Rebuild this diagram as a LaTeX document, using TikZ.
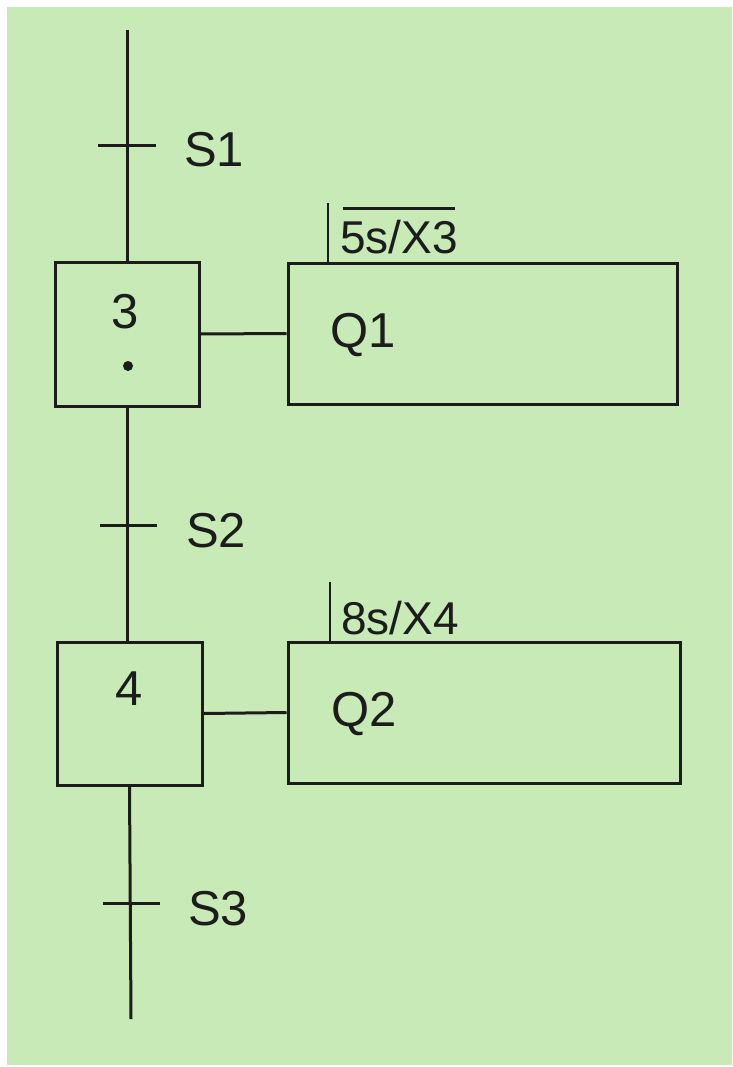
\documentclass[tikz,border=0pt]{standalone}
\usepackage{fontspec}
\setmainfont{Liberation Sans}
\usetikzlibrary{calc}
\definecolor{bggreen}{RGB}{200,234,182}
\definecolor{ink}{RGB}{28,28,28}
\begin{document}
\begin{tikzpicture}[x=1pt,y=-1pt,
  line/.style={draw=ink,line width=3pt},
  thinline/.style={draw=ink,line width=2pt},
  stepbox/.style={draw=ink,line width=3pt,minimum width=144pt,minimum height=144pt,inner sep=0pt},
  actbox/.style={draw=ink,line width=3pt,minimum width=390pt,minimum height=141pt,inner sep=0pt},
  lbl/.style={text=ink,font=\fontsize{49}{49}\selectfont,inner sep=0pt},
  tlbl/.style={text=ink,font=\fontsize{46}{46}\selectfont,inner sep=0pt}]
\useasboundingbox (0,0) rectangle (732,1067);
\fill[white] (0,0) rectangle (732,1067);
\fill[bggreen] (7,7) rectangle (732,1065);

% steps and actions
\node[stepbox] (s3) at (127,334) {};
\node[stepbox,minimum width=145pt,minimum height=143pt] (s4) at (129.5,713.5) {};
\node[actbox,minimum width=389pt] (a3) at (482.5,333.5) {};
\node[actbox,minimum width=392pt] (a4) at (484,712.5) {};

\node[lbl,anchor=base] (n3) at (125.5,328) {3};
\node[lbl,anchor=base] (n4) at (129.5,705) {4};
\fill[ink] (128,366) circle (5pt);
\node[lbl,anchor=base west] (q1) at (330,347) {Q1};
\node[lbl,anchor=base west] (q2) at (331,726) {Q2};

% main line
\coordinate (top) at (127,30);
\coordinate (bot) at (131,1019);
\draw[line] (top) -- (s3.north);
\draw[line] (s3.south) -- (s3.south |- s4.north);
\draw[line] (s4.south) -- (bot);

% transitions
\coordinate (t1) at (127,146);
\coordinate (t2) at (128,525);
\coordinate (t3) at (130.5,903);
\draw[line] ($(t1)+(-29,0)$) -- ($(t1)+(29,0)$);
\draw[line] ($(t2)+(-28,0)$) -- ($(t2)+(29,0)$);
\draw[line] ($(t3)+(-28,0)$) -- ($(t3)+(29,0)$);
\node[lbl,anchor=base west] (c1) at (184,167) {S1};
\node[lbl,anchor=base west] (c2) at (186,547) {S2};
\node[lbl,anchor=base west] (c3) at (188,925) {S3};

% step-to-action links
\draw[line] (s3.east) -- (a3.west);
\draw[line] (s4.east) -- (a4.west);

% timed qualifiers
\draw[thinline] ([xshift=41pt]a3.north west) -- ++(0,-58);
\draw[thinline] ([xshift=43pt]a4.north west) -- ++(0,-59);
\node[tlbl,anchor=base west] (d3) at (340,254) {5s/X3};
\node[tlbl,anchor=base west] (d4) at (341,634) {8s/X4};
\draw[line] ($(d3.base west)+(3,-45)$) -- ($(d3.base east)+(-3,-45)$);
\end{tikzpicture}
\end{document}
